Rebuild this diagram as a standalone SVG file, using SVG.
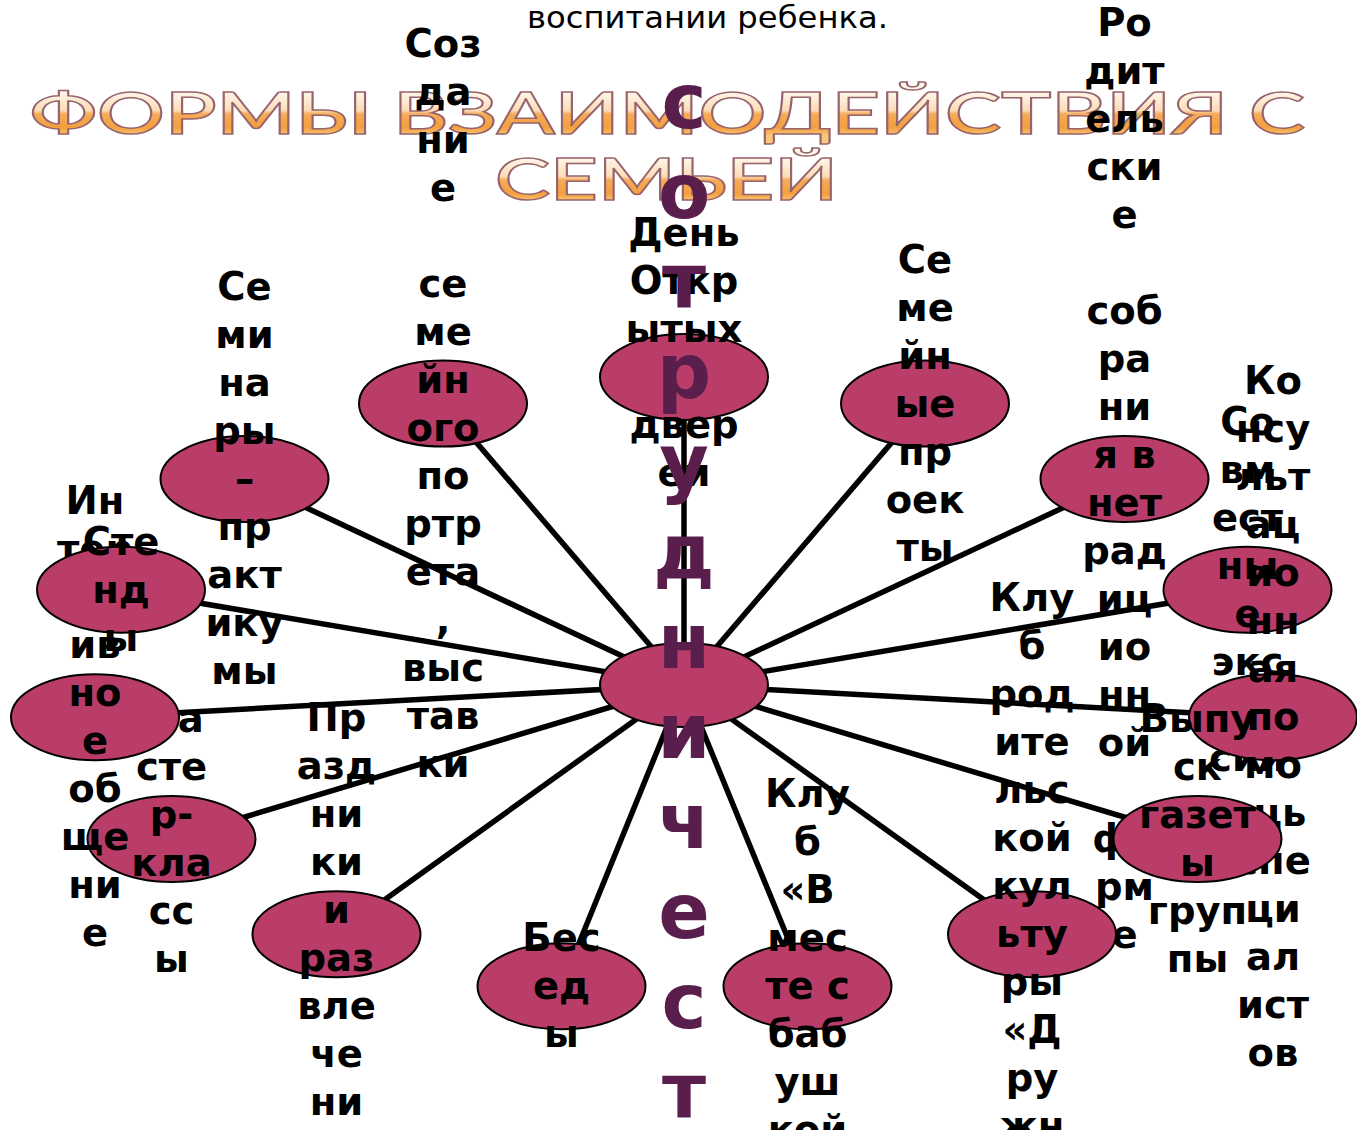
<svg xmlns="http://www.w3.org/2000/svg" width="1357" height="1130" viewBox="0 0 1357 1130">
<defs>
<linearGradient id="g1" gradientUnits="userSpaceOnUse" x1="0" y1="92" x2="0" y2="136">
<stop offset="0" stop-color="#fff6ea"/><stop offset="0.42" stop-color="#fbdcb8"/><stop offset="0.5" stop-color="#f5ab5a"/><stop offset="0.8" stop-color="#f39f3e"/><stop offset="1" stop-color="#f9c77a"/>
</linearGradient>
<linearGradient id="g2" gradientUnits="userSpaceOnUse" x1="0" y1="158" x2="0" y2="202">
<stop offset="0" stop-color="#fff6ea"/><stop offset="0.42" stop-color="#fbdcb8"/><stop offset="0.5" stop-color="#f5ab5a"/><stop offset="0.8" stop-color="#f39f3e"/><stop offset="1" stop-color="#f9c77a"/>
</linearGradient>
</defs>
<style>
.title{font-family:Lato,"Open Sans","DejaVu Sans",sans-serif;font-size:58px;font-weight:600;stroke:#98646c;stroke-width:1.5px;}
.sub{font-family:"DejaVu Sans",Verdana,sans-serif;font-size:31px;fill:#000;}
.lbl{font-family:"DejaVu Sans",Verdana,sans-serif;font-size:38.5px;font-weight:bold;fill:#000;text-anchor:middle;}
.big{font-family:"DejaVu Sans",Verdana,sans-serif;font-size:76px;font-weight:bold;fill:#5a1e4d;text-anchor:middle;}
.node ellipse{fill:#b93d68;stroke:#000;stroke-width:2px;}
.conn line{stroke:#000;stroke-width:5.5px;}
</style>
<rect width="1357" height="1130" fill="#fff"/>
<text class="sub" x="527" y="28" textLength="361" lengthAdjust="spacingAndGlyphs">воспитании ребенка.</text>
<g id="title">
<text class="title" x="30" y="134" textLength="1275" lengthAdjust="spacingAndGlyphs" fill="url(#g1)">ФОРМЫ ВЗАИМОДЕЙСТВИЯ С</text>
<text class="title" x="495" y="200" textLength="343" lengthAdjust="spacingAndGlyphs" fill="url(#g2)">СЕМЬЕЙ</text>
</g>
<g id="connectors" class="conn">
<line x1="684" y1="685" x2="684" y2="377"/>
<line x1="684" y1="685" x2="443.2" y2="403.6"/>
<line x1="684" y1="685" x2="245" y2="479"/>
<line x1="684" y1="685" x2="121" y2="589.8"/>
<line x1="684" y1="685" x2="95" y2="717.2"/>
<line x1="684" y1="685" x2="171.3" y2="839"/>
<line x1="684" y1="685" x2="336.5" y2="934.2"/>
<line x1="684" y1="685" x2="561.5" y2="986.3"/>
<line x1="684" y1="685" x2="807.5" y2="986.3"/>
<line x1="684" y1="685" x2="1032" y2="934.2"/>
<line x1="684" y1="685" x2="1197.5" y2="839"/>
<line x1="684" y1="685" x2="1273" y2="717.2"/>
<line x1="684" y1="685" x2="1247.5" y2="589.8"/>
<line x1="684" y1="685" x2="1124.5" y2="479"/>
<line x1="684" y1="685" x2="925" y2="403.6"/>
</g>
<g id="node0" class="node">
<ellipse cx="684" cy="377" rx="84" ry="43"/>
<text class="lbl" y="246"><tspan x="684">День</tspan><tspan x="684" dy="48">Откр</tspan><tspan x="684" dy="48">ытых</tspan><tspan x="684" dy="96">двер</tspan><tspan x="684" dy="48">ей</tspan></text>
</g>
<g id="node14" class="node">
<ellipse cx="925" cy="403.6" rx="84" ry="43"/>
<text class="lbl" y="272.6"><tspan x="925">Се</tspan><tspan x="925" dy="48">ме</tspan><tspan x="925" dy="48">йн</tspan><tspan x="925" dy="48">ые</tspan><tspan x="925" dy="48">пр</tspan><tspan x="925" dy="48">оек</tspan><tspan x="925" dy="48">ты</tspan></text>
</g>
<g id="node13" class="node">
<ellipse cx="1124.5" cy="479" rx="84" ry="43"/>
<text class="lbl" y="36"><tspan x="1124.5">Ро</tspan><tspan x="1124.5" dy="48">дит</tspan><tspan x="1124.5" dy="48">ель</tspan><tspan x="1124.5" dy="48">ски</tspan><tspan x="1124.5" dy="48">е</tspan><tspan x="1124.5" dy="96">соб</tspan><tspan x="1124.5" dy="48">ра</tspan><tspan x="1124.5" dy="48">ни</tspan><tspan x="1124.5" dy="48">я в</tspan><tspan x="1124.5" dy="48">нет</tspan><tspan x="1124.5" dy="48">рад</tspan><tspan x="1124.5" dy="48">иц</tspan><tspan x="1124.5" dy="48">ио</tspan><tspan x="1124.5" dy="48">нн</tspan><tspan x="1124.5" dy="48">ой</tspan><tspan x="1124.5" dy="96">фо</tspan><tspan x="1124.5" dy="48">рм</tspan><tspan x="1124.5" dy="48">е</tspan></text>
</g>
<g id="node12" class="node">
<ellipse cx="1247.5" cy="589.8" rx="84" ry="43"/>
<text class="lbl" y="434.8"><tspan x="1247.5">Со</tspan><tspan x="1247.5" dy="48">вм</tspan><tspan x="1247.5" dy="48">ест</tspan><tspan x="1247.5" dy="48">ны</tspan><tspan x="1247.5" dy="48">е</tspan><tspan x="1247.5" dy="48">экс</tspan><tspan x="1247.5" dy="48">кур</tspan><tspan x="1247.5" dy="48">сии</tspan></text>
</g>
<g id="node11" class="node">
<ellipse cx="1273" cy="717.2" rx="84" ry="43"/>
<text class="lbl" y="394.2"><tspan x="1273">Ко</tspan><tspan x="1273" dy="48">нсу</tspan><tspan x="1273" dy="48">льт</tspan><tspan x="1273" dy="48">ац</tspan><tspan x="1273" dy="48">ио</tspan><tspan x="1273" dy="48">нн</tspan><tspan x="1273" dy="48">ая</tspan><tspan x="1273" dy="48">по</tspan><tspan x="1273" dy="48">мо</tspan><tspan x="1273" dy="48">щь</tspan><tspan x="1273" dy="48">спе</tspan><tspan x="1273" dy="48">ци</tspan><tspan x="1273" dy="48">ал</tspan><tspan x="1273" dy="48">ист</tspan><tspan x="1273" dy="48">ов</tspan></text>
</g>
<g id="node10" class="node">
<ellipse cx="1197.5" cy="839" rx="84" ry="43"/>
<text class="lbl" y="732"><tspan x="1197.5">Выпу</tspan><tspan x="1197.5" dy="48">ск</tspan><tspan x="1197.5" dy="48">газет</tspan><tspan x="1197.5" dy="48">ы</tspan><tspan x="1197.5" dy="48">груп</tspan><tspan x="1197.5" dy="48">пы</tspan></text>
</g>
<g id="node9" class="node">
<ellipse cx="1032" cy="934.2" rx="84" ry="43"/>
<text class="lbl" y="611.2"><tspan x="1032">Клу</tspan><tspan x="1032" dy="48">б</tspan><tspan x="1032" dy="48">род</tspan><tspan x="1032" dy="48">ите</tspan><tspan x="1032" dy="48">льс</tspan><tspan x="1032" dy="48">кой</tspan><tspan x="1032" dy="48">кул</tspan><tspan x="1032" dy="48">ьту</tspan><tspan x="1032" dy="48">ры</tspan><tspan x="1032" dy="48">«Д</tspan><tspan x="1032" dy="48">ру</tspan><tspan x="1032" dy="48">жн</tspan><tspan x="1032" dy="48">ая</tspan><tspan x="1032" dy="48">сем</tspan><tspan x="1032" dy="48">ья»</tspan></text>
</g>
<g id="node8" class="node">
<ellipse cx="807.5" cy="986.3" rx="84" ry="43"/>
<text class="lbl" y="807.3"><tspan x="807.5">Клу</tspan><tspan x="807.5" dy="48">б</tspan><tspan x="807.5" dy="48">«В</tspan><tspan x="807.5" dy="48">мес</tspan><tspan x="807.5" dy="48">те с</tspan><tspan x="807.5" dy="48">баб</tspan><tspan x="807.5" dy="48">уш</tspan><tspan x="807.5" dy="48">кой</tspan><tspan x="807.5" dy="48">»</tspan></text>
</g>
<g id="node7" class="node">
<ellipse cx="561.5" cy="986.3" rx="84" ry="43"/>
<text class="lbl" y="951.3"><tspan x="561.5">Бес</tspan><tspan x="561.5" dy="48">ед</tspan><tspan x="561.5" dy="48">ы</tspan></text>
</g>
<g id="node6" class="node">
<ellipse cx="336.5" cy="934.2" rx="84" ry="43"/>
<text class="lbl" y="731"><tspan x="336.5">Пр</tspan><tspan x="336.5" dy="48">азд</tspan><tspan x="336.5" dy="48">ни</tspan><tspan x="336.5" dy="48">ки</tspan><tspan x="336.5" dy="48">и</tspan><tspan x="336.5" dy="48">раз</tspan><tspan x="336.5" dy="48">вле</tspan><tspan x="336.5" dy="48">че</tspan><tspan x="336.5" dy="48">ни</tspan><tspan x="336.5" dy="48">я</tspan></text>
</g>
<g id="node5" class="node">
<ellipse cx="171.5" cy="839" rx="84" ry="43"/>
<text class="lbl" y="732"><tspan x="171.5">Ма</tspan><tspan x="171.5" dy="48">сте</tspan><tspan x="171.5" dy="48">р-</tspan><tspan x="171.5" dy="48">кла</tspan><tspan x="171.5" dy="48">сс</tspan><tspan x="171.5" dy="48">ы</tspan></text>
</g>
<g id="node4" class="node">
<ellipse cx="95" cy="717.2" rx="84" ry="43"/>
<text class="lbl" y="514.2"><tspan x="95">Ин</tspan><tspan x="95" dy="48">тер</tspan><tspan x="95" dy="48">акт</tspan><tspan x="95" dy="48">ив</tspan><tspan x="95" dy="48">но</tspan><tspan x="95" dy="48">е</tspan><tspan x="95" dy="48">об</tspan><tspan x="95" dy="48">ще</tspan><tspan x="95" dy="48">ни</tspan><tspan x="95" dy="48">е</tspan></text>
</g>
<g id="node3" class="node">
<ellipse cx="121" cy="589.8" rx="84" ry="43"/>
<text class="lbl" y="554.8"><tspan x="121">Сте</tspan><tspan x="121" dy="48">нд</tspan><tspan x="121" dy="48">ы</tspan></text>
</g>
<g id="node2" class="node">
<ellipse cx="244.5" cy="479" rx="84" ry="43"/>
<text class="lbl" y="300"><tspan x="244.5">Се</tspan><tspan x="244.5" dy="48">ми</tspan><tspan x="244.5" dy="48">на</tspan><tspan x="244.5" dy="48">ры</tspan><tspan x="244.5" dy="48">–</tspan><tspan x="244.5" dy="48">пр</tspan><tspan x="244.5" dy="48">акт</tspan><tspan x="244.5" dy="48">ику</tspan><tspan x="244.5" dy="48">мы</tspan></text>
</g>
<g id="node1" class="node">
<ellipse cx="443" cy="403.6" rx="84" ry="43"/>
<text class="lbl" y="56.6"><tspan x="443">Соз</tspan><tspan x="443" dy="48">да</tspan><tspan x="443" dy="48">ни</tspan><tspan x="443" dy="48">е</tspan><tspan x="443" dy="96">се</tspan><tspan x="443" dy="48">ме</tspan><tspan x="443" dy="48">йн</tspan><tspan x="443" dy="48">ого</tspan><tspan x="443" dy="48">по</tspan><tspan x="443" dy="48">ртр</tspan><tspan x="443" dy="48">ета</tspan><tspan x="443" dy="48">,</tspan><tspan x="443" dy="48">выс</tspan><tspan x="443" dy="48">тав</tspan><tspan x="443" dy="48">ки</tspan></text>
</g>
<g id="center" class="node">
<ellipse cx="684" cy="685" rx="84" ry="42"/>
<text class="big" y="128"><tspan x="684">с</tspan><tspan x="684" dy="90">о</tspan><tspan x="684" dy="90">т</tspan><tspan x="684" dy="90">р</tspan><tspan x="684" dy="90">у</tspan><tspan x="684" dy="90">д</tspan><tspan x="684" dy="90">н</tspan><tspan x="684" dy="90">и</tspan><tspan x="684" dy="90">ч</tspan><tspan x="684" dy="90">е</tspan><tspan x="684" dy="90">с</tspan><tspan x="684" dy="90">т</tspan><tspan x="684" dy="90">в</tspan><tspan x="684" dy="90">о</tspan></text>
</g>
</svg>
